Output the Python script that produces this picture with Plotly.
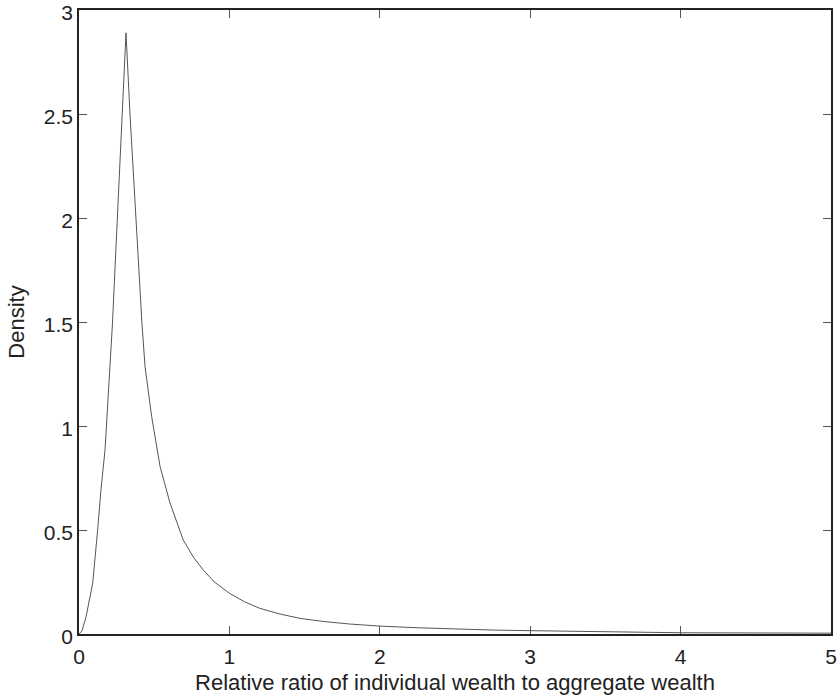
import plotly.graph_objects as go

wealth_ratio = [0, 0.02, 0.047, 0.091, 0.124, 0.146, 0.173, 0.2, 0.223, 0.255, 0.29, 0.3125,
                0.339, 0.379, 0.406, 0.418, 0.439, 0.483, 0.539, 0.605, 0.693, 0.76, 0.826,
                0.9, 1.0, 1.1, 1.2, 1.33, 1.47, 1.63, 1.8, 2.0, 2.25, 2.5, 2.75,
                3.0, 3.5, 4.0, 4.5, 5.0]
density = [0, 0.015, 0.083, 0.244, 0.5, 0.693, 0.885, 1.2, 1.5, 2.0, 2.5, 2.89,
           2.5, 2.0, 1.607, 1.5, 1.286, 1.046, 0.805, 0.63, 0.452, 0.37, 0.308,
           0.25, 0.196, 0.155, 0.124, 0.097, 0.075, 0.06, 0.048, 0.038, 0.03, 0.023, 0.019,
           0.016, 0.01, 0.006, 0.005, 0.004]

x_ticks = [0, 1, 2, 3, 4, 5]
y_ticks = [0, 0.5, 1, 1.5, 2, 2.5, 3]
y_tick_labels = ["0", "0.5", "1", "1.5", "2", "2.5", "3"]

FONT = "Liberation Sans"

fig = go.Figure()
fig.add_trace(go.Scatter(x=wealth_ratio, y=density, mode="lines",
                         line=dict(color="#555555", width=1), showlegend=False,
                         hoverinfo="skip"))

axis_common = dict(showline=True, linecolor="#222222", linewidth=1.5, mirror="ticks",
                   ticks="inside", ticklen=8, tickcolor="#555555", tickwidth=1,
                   showgrid=False, zeroline=False, automargin=False,
                   ticklabeloverflow="allow",
                   tickfont=dict(family=FONT, size=21, color="#222222"))

fig.update_xaxes(range=[0, 5], tickvals=x_ticks, ticktext=[str(v) for v in x_ticks],
                 ticklabelstandoff=3,
                 title=dict(text="Relative ratio of individual wealth to aggregate wealth",
                            font=dict(family=FONT, size=22, color="#222222"),
                            standoff=8),
                 **axis_common)
fig.update_yaxes(range=[0, 3], tickvals=y_ticks, ticktext=y_tick_labels,
                 ticklabelshift=3,
                 title=dict(text="Density",
                            font=dict(family=FONT, size=22, color="#222222"),
                            standoff=13),
                 **axis_common)

fig.update_layout(width=839, height=700, plot_bgcolor="white", paper_bgcolor="white",
                  margin=dict(l=79, r=8, t=10, b=66))

# remove the default 8px page margin so the figure fills the window exactly
fig.write_html("out.html", config={"displayModeBar": False},
               post_script="document.body.style.margin='0';document.body.style.overflow='hidden';")
